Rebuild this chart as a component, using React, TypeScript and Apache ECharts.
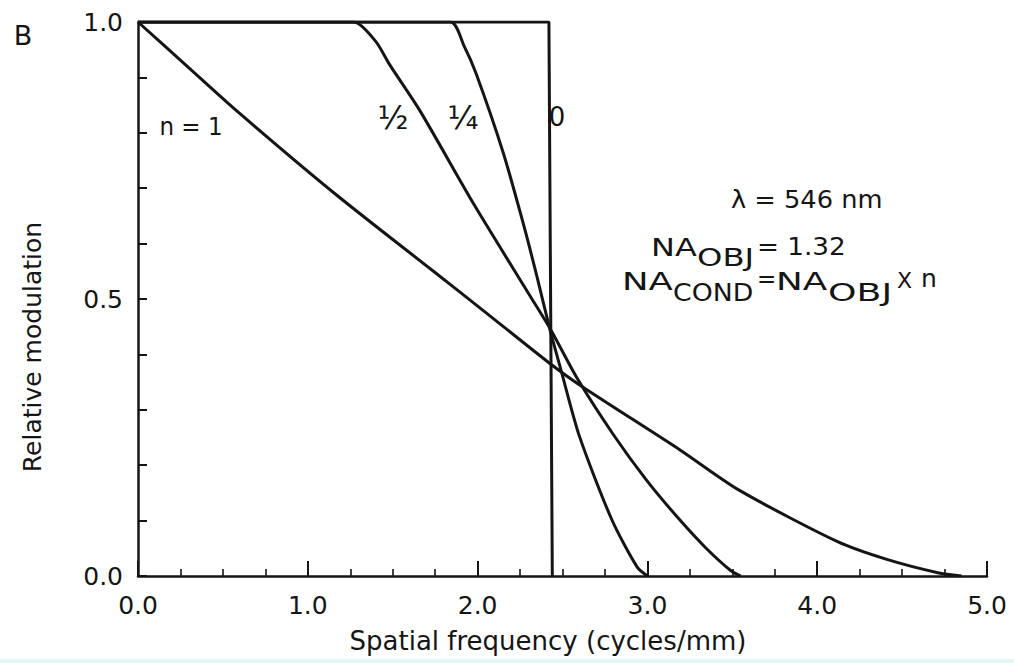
import React, { useEffect, useRef } from "react";
import * as echarts from "echarts";

// ---- data ----
const xTickLabels = ["0.0", "1.0", "2.0", "3.0", "4.0", "5.0"];
const yTickLabels = ["0.0", "0.5", "1.0"];

// n = 1 (incoherent-like illumination)
const n1X = [0, 0.29, 0.58, 1.16, 1.74, 2.03, 2.42, 2.61, 3.19, 3.54, 4.12, 4.41, 4.71, 4.85];
const n1Y = [1.0, 0.92, 0.84, 0.69, 0.55, 0.48, 0.385, 0.343, 0.228, 0.155, 0.062, 0.03, 0.006, 0];

// n = 1/2
const nHalfX = [0, 1.27, 1.40, 1.48, 1.66, 1.98, 2.32, 2.43, 2.59, 2.80, 2.99, 3.18, 3.34, 3.49, 3.55];
const nHalfY = [1.0, 1.0, 0.965, 0.924, 0.84, 0.67, 0.50, 0.445, 0.355, 0.255, 0.175, 0.105, 0.052, 0.01, 0];

// n = 1/4
const nQuarterX = [0, 1.84, 1.92, 1.99, 2.15, 2.27, 2.35, 2.43, 2.49, 2.60, 2.79, 2.94, 3.0];
const nQuarterY = [1.0, 1.0, 0.957, 0.908, 0.765, 0.635, 0.54, 0.44, 0.373, 0.252, 0.102, 0.016, 0];

// n = 0 (coherent)
const n0X = [0, 2.42, 2.44];
const n0Y = [1.0, 1.0, 0];

const curveLabels = ["n = 1", "½", "¼", "0"];
const yAxisName = "Relative modulation";
const xAxisName = "Spatial frequency (cycles/mm)";

const INK = "#151515";
const FONT = '"DejaVu Sans", "Liberation Sans", sans-serif';

function pairs(xs: number[], ys: number[]) {
  return xs.map((x, i) => [x, ys[i]]);
}

function txt(
  text: string,
  x: number,
  y: number,
  size: number,
  align: string = "left",
  scaleX: number = 1,
  extra: any = {}
) {
  return {
    type: "text",
    x,
    y,
    scaleX,
    silent: true,
    z: 100,
    ...extra,
    style: {
      text,
      fill: INK,
      fontSize: size,
      fontFamily: FONT,
      align,
      textAlign: align,
      verticalAlign: "middle",
      textVerticalAlign: "middle",
    },
  };
}

export default function App() {
  const ref = useRef<HTMLDivElement>(null);

  useEffect(() => {
    const chart = echarts.init(ref.current!, null, { renderer: "svg" });
    const lineStyle = { color: INK, width: 3 };
    const baseSeries = {
      type: "line",
      symbol: "none",
      showSymbol: false,
      silent: true,
      lineStyle,
    };
    chart.setOption({
      animation: false,
      backgroundColor: "#ffffff",
      grid: { left: 138, right: 27, top: 22, bottom: 87 },
      xAxis: {
        type: "value",
        min: 0,
        max: 5,
        interval: 1,
        axisLine: { show: true, onZero: false, lineStyle: { color: INK, width: 2.5 } },
        axisTick: { show: true, inside: true, length: 15, lineStyle: { color: INK, width: 2 } },
        minorTick: { show: true, splitNumber: 4, length: 7, lineStyle: { color: INK, width: 1.6 } },
        splitLine: { show: false },
        minorSplitLine: { show: false },
        axisLabel: {
          margin: 17,
          color: INK,
          fontSize: 25,
          fontFamily: FONT,
          formatter: (v: number) => {
            const i = Math.round(v);
            return Math.abs(v - i) < 1e-6 && xTickLabels[i] ? xTickLabels[i] : "";
          },
        },
      },
      yAxis: {
        type: "value",
        min: 0,
        max: 1,
        interval: 0.1,
        axisLine: { show: true, onZero: false, lineStyle: { color: INK, width: 2.5 } },
        axisTick: { show: true, inside: true, length: 9, lineStyle: { color: INK, width: 2 } },
        splitLine: { show: false },
        axisLabel: {
          margin: 15,
          color: INK,
          fontSize: 25,
          fontFamily: FONT,
          formatter: (v: number) => {
            const k = Math.round(v * 2);
            return Math.abs(v * 2 - k) < 1e-6 && yTickLabels[k] ? yTickLabels[k] : "";
          },
        },
      },
      series: [
        { ...baseSeries, name: "n=1", smooth: 0.25, data: pairs(n1X, n1Y) },
        { ...baseSeries, name: "n=1/2", smooth: 0.25, data: pairs(nHalfX, nHalfY) },
        { ...baseSeries, name: "n=1/4", smooth: 0.25, data: pairs(nQuarterX, nQuarterY) },
        { ...baseSeries, name: "n=0", smooth: false, data: pairs(n0X, n0Y) },
      ],
      graphic: {
        elements: [
          txt("B", 23, 35, 27, "center"),
          txt(curveLabels[0], 191, 127, 25, "center", 0.92),
          txt(curveLabels[1], 393, 118, 32, "center"),
          txt(curveLabels[2], 463, 118, 32, "center"),
          txt(curveLabels[3], 557, 117, 26, "center"),
          txt("λ = 546 nm", 731, 200, 24, "left", 1.07),
          // NA_OBJ = 1.32
          txt("NA", 651, 247, 25, "left", 1.28),
          txt("OBJ", 697, 257, 25, "left", 1.29),
          txt("= 1.32", 757, 246, 25, "left", 1.05),
          // NA_COND = NA_OBJ X n
          txt("NA", 622, 281, 25, "left", 1.42),
          txt("COND", 673, 292, 25, "left", 1.07),
          txt("=", 757, 279, 23, "left"),
          txt("NA", 776, 281, 25, "left", 1.43),
          txt("OBJ", 828, 292, 25, "left", 1.45),
          txt("X", 897, 280, 22, "left"),
          txt("n", 921, 278, 25, "left"),
          // axis names
          txt(yAxisName, 32, 347, 25, "center", 1, { rotation: Math.PI / 2 }),
          txt(xAxisName, 548, 641, 26, "center"),
          {
            type: "rect",
            silent: true,
            z: 200,
            shape: { x: 0, y: 659, width: 1014, height: 4 },
            style: { fill: "#e4f5f6" },
          },
        ],
      },
    });
    return () => chart.dispose();
  }, []);

  return (
    <div
      ref={ref}
      style={{ position: "absolute", left: 0, top: 0, width: 1014, height: 663, background: "#ffffff" }}
    />
  );
}
